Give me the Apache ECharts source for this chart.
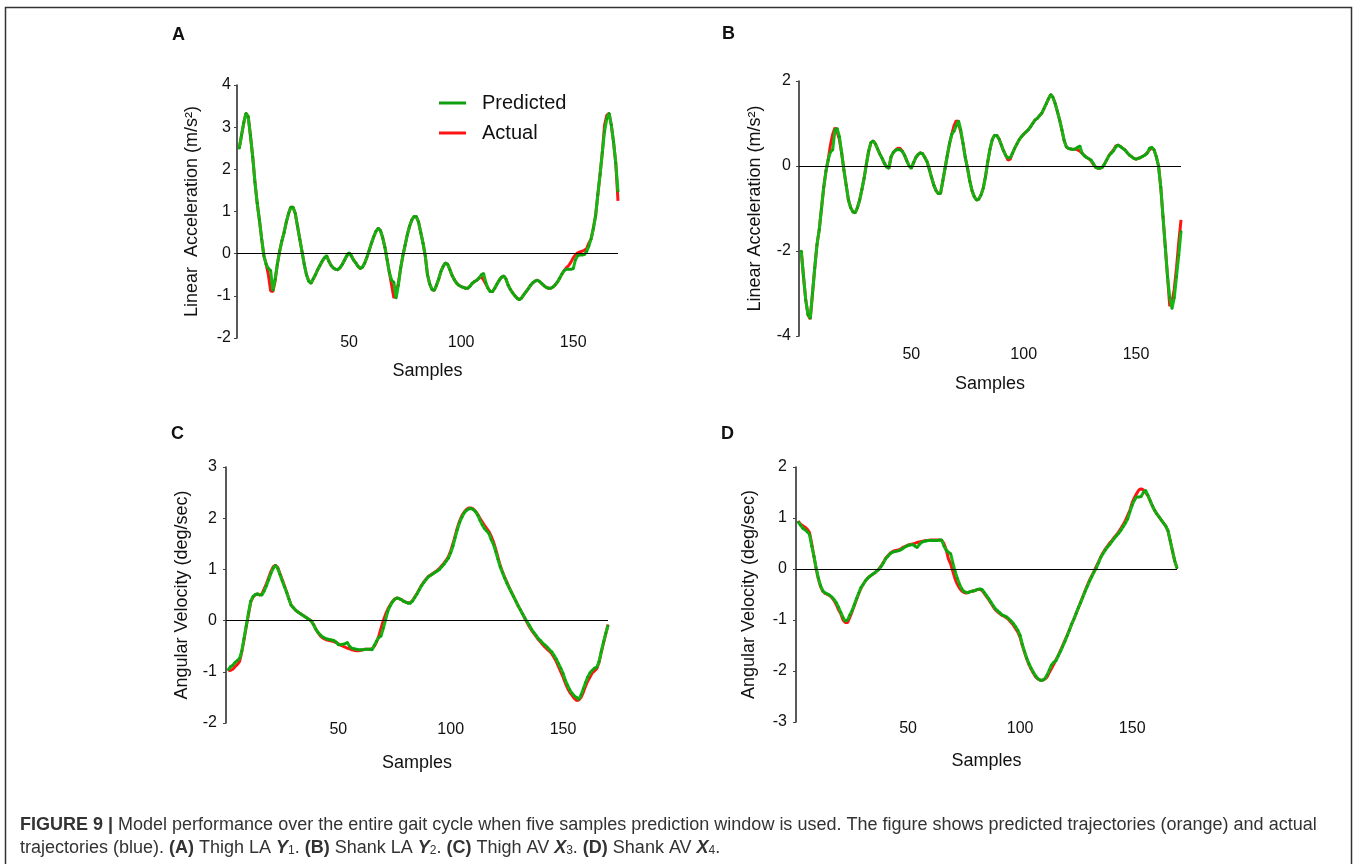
<!DOCTYPE html>
<html>
<head>
<meta charset="utf-8">
<script src="https://cdn.jsdelivr.net/npm/echarts@6/dist/echarts.min.js"></script>
<style>html,body{margin:0;padding:0;background:#fff}#c{width:1359px;height:864px}</style>
</head>
<body>
<div id="c"></div>
<script>
// ---- data (samples 1..170) ----
const predA=[2.5,2.8,3.1,3.33,3.25,2.8,2.3,1.7,1.2,0.8,
0.35,-0.05,-0.25,-0.35,-0.4,-0.87,-0.6,-0.25,0.05,0.3,
0.5,0.75,0.95,1.1,1.1,0.95,0.65,0.35,0.05,-0.25,
-0.5,-0.65,-0.7,-0.6,-0.5,-0.38,-0.28,-0.18,-0.1,-0.05,
-0.18,-0.28,-0.34,-0.37,-0.38,-0.33,-0.25,-0.15,-0.05,0.02,
-0.05,-0.15,-0.22,-0.3,-0.35,-0.32,-0.22,-0.08,0.08,0.25,
0.4,0.53,0.6,0.55,0.38,0.15,-0.15,-0.45,-0.63,-0.68,
-1.05,-0.75,-0.35,-0.05,0.2,0.45,0.65,0.8,0.88,0.88,
0.75,0.5,0.25,-0.05,-0.5,-0.72,-0.85,-0.87,-0.75,-0.6,
-0.42,-0.3,-0.22,-0.25,-0.38,-0.52,-0.62,-0.7,-0.75,-0.78,
-0.8,-0.82,-0.82,-0.77,-0.7,-0.66,-0.63,-0.58,-0.5,-0.47,
-0.68,-0.82,-0.9,-0.9,-0.82,-0.72,-0.63,-0.56,-0.53,-0.6,
-0.75,-0.85,-0.93,-1.0,-1.06,-1.09,-1.05,-0.97,-0.9,-0.83,
-0.75,-0.69,-0.65,-0.63,-0.66,-0.71,-0.76,-0.8,-0.82,-0.82,
-0.79,-0.74,-0.67,-0.58,-0.48,-0.4,-0.37,-0.37,-0.37,-0.36,
-0.15,-0.05,-0.03,-0.03,-0.02,0.05,0.18,0.35,0.6,0.9,
1.4,1.88,2.4,2.9,3.2,3.33,3.05,2.65,2.15,1.48];
const actA=[2.5,2.8,3.1,3.33,3.25,2.8,2.3,1.7,1.2,0.8,
0.35,-0.05,-0.25,-0.5,-0.88,-0.9,-0.65,-0.25,0.05,0.3,
0.5,0.75,0.95,1.1,1.1,0.95,0.65,0.35,0.05,-0.25,
-0.5,-0.65,-0.7,-0.6,-0.5,-0.38,-0.28,-0.18,-0.1,-0.05,
-0.18,-0.28,-0.34,-0.37,-0.38,-0.33,-0.25,-0.15,-0.05,0.02,
-0.05,-0.15,-0.22,-0.3,-0.35,-0.32,-0.22,-0.08,0.08,0.25,
0.4,0.53,0.6,0.55,0.38,0.15,-0.15,-0.45,-0.75,-1.05,
-0.95,-0.7,-0.35,-0.05,0.2,0.45,0.65,0.8,0.88,0.88,
0.75,0.5,0.25,-0.05,-0.5,-0.72,-0.85,-0.87,-0.75,-0.6,
-0.42,-0.3,-0.22,-0.25,-0.38,-0.52,-0.62,-0.7,-0.75,-0.78,
-0.8,-0.82,-0.82,-0.77,-0.7,-0.66,-0.63,-0.58,-0.55,-0.62,
-0.72,-0.82,-0.9,-0.9,-0.82,-0.72,-0.63,-0.56,-0.53,-0.6,
-0.75,-0.85,-0.93,-1.0,-1.06,-1.09,-1.05,-0.97,-0.9,-0.83,
-0.75,-0.69,-0.65,-0.63,-0.66,-0.71,-0.76,-0.8,-0.82,-0.82,
-0.79,-0.74,-0.67,-0.58,-0.48,-0.4,-0.33,-0.28,-0.2,-0.1,
-0.03,0.02,0.04,0.06,0.08,0.12,0.25,0.35,0.6,0.9,
1.4,1.88,2.4,3.05,3.28,3.33,3.05,2.65,2.15,1.25];

const predB=[-2.0,-2.6,-3.15,-3.5,-3.58,-3.0,-2.4,-1.85,-1.5,-1.0,
-0.5,-0.12,0.15,0.33,0.38,0.85,0.88,0.69,0.3,-0.1,
-0.45,-0.8,-0.98,-1.08,-1.1,-0.98,-0.8,-0.55,-0.28,0.05,
0.35,0.55,0.59,0.52,0.4,0.28,0.18,0.06,-0.02,-0.05,
0.22,0.32,0.37,0.39,0.38,0.34,0.25,0.12,0.0,-0.05,
0.08,0.2,0.27,0.31,0.29,0.2,0.1,-0.08,-0.27,-0.45,
-0.58,-0.65,-0.64,-0.35,-0.05,0.25,0.53,0.75,0.82,0.95,
1.06,0.85,0.53,0.2,-0.05,-0.35,-0.58,-0.72,-0.8,-0.78,
-0.68,-0.52,-0.25,0.1,0.4,0.62,0.72,0.72,0.64,0.5,
0.36,0.25,0.19,0.2,0.3,0.42,0.52,0.62,0.69,0.75,
0.8,0.85,0.92,1.0,1.08,1.12,1.18,1.24,1.35,1.46,
1.58,1.68,1.62,1.47,1.28,1.08,0.85,0.6,0.45,0.41,
0.4,0.39,0.4,0.44,0.47,0.3,0.24,0.2,0.17,0.14,
0.06,-0.03,-0.05,-0.05,-0.03,0.05,0.15,0.25,0.3,0.36,
0.45,0.49,0.46,0.42,0.38,0.32,0.26,0.22,0.18,0.16,
0.18,0.2,0.23,0.26,0.3,0.42,0.44,0.38,0.22,0.0,
-0.5,-1.2,-1.9,-2.6,-3.1,-3.35,-3.1,-2.6,-2.1,-1.54];
const actB=[-2.0,-2.6,-3.15,-3.5,-3.6,-3.0,-2.4,-1.85,-1.5,-1.0,
-0.5,-0.12,0.15,0.5,0.75,0.9,0.8,0.62,0.3,-0.1,
-0.45,-0.8,-0.98,-1.08,-1.1,-0.98,-0.8,-0.55,-0.28,0.05,
0.35,0.55,0.59,0.52,0.4,0.28,0.18,0.06,-0.02,-0.05,
0.22,0.32,0.38,0.42,0.41,0.35,0.25,0.12,0.0,-0.05,
0.08,0.2,0.27,0.31,0.29,0.2,0.1,-0.08,-0.27,-0.45,
-0.58,-0.65,-0.64,-0.35,-0.05,0.25,0.53,0.75,0.95,1.07,
1.0,0.8,0.53,0.2,-0.05,-0.35,-0.58,-0.72,-0.8,-0.78,
-0.68,-0.52,-0.25,0.1,0.4,0.62,0.72,0.72,0.64,0.5,
0.36,0.25,0.14,0.16,0.3,0.42,0.52,0.62,0.69,0.75,
0.8,0.85,0.92,1.0,1.08,1.12,1.18,1.24,1.35,1.46,
1.58,1.68,1.62,1.47,1.28,1.08,0.85,0.6,0.45,0.41,
0.4,0.39,0.4,0.38,0.35,0.3,0.24,0.2,0.17,0.12,
0.04,-0.03,-0.05,-0.05,-0.03,0.05,0.15,0.25,0.32,0.38,
0.47,0.49,0.46,0.42,0.38,0.32,0.26,0.22,0.18,0.16,
0.18,0.2,0.23,0.26,0.32,0.38,0.42,0.38,0.22,0.0,
-0.5,-1.2,-1.9,-2.6,-3.3,-3.2,-2.9,-2.4,-1.8,-1.27];

const predC=[-0.96,-0.9,-0.87,-0.82,-0.78,-0.74,-0.6,-0.35,-0.1,0.15,
0.38,0.47,0.51,0.52,0.5,0.5,0.58,0.68,0.8,0.92,
1.02,1.08,1.02,0.9,0.78,0.66,0.55,0.42,0.3,0.25,
0.2,0.17,0.14,0.11,0.08,0.05,0.02,-0.01,-0.08,-0.17,
-0.23,-0.28,-0.32,-0.34,-0.36,-0.37,-0.38,-0.39,-0.42,-0.47,
-0.47,-0.46,-0.45,-0.43,-0.5,-0.54,-0.55,-0.56,-0.57,-0.57,
-0.57,-0.56,-0.56,-0.56,-0.57,-0.48,-0.4,-0.33,-0.3,-0.15,
0.01,0.18,0.28,0.36,0.41,0.44,0.43,0.41,0.38,0.36,
0.34,0.34,0.38,0.45,0.52,0.6,0.68,0.74,0.8,0.85,
0.88,0.91,0.94,0.97,1.0,1.05,1.1,1.16,1.22,1.32,
1.45,1.62,1.78,1.92,2.02,2.1,2.15,2.18,2.19,2.17,
2.13,2.06,1.96,1.87,1.8,1.75,1.7,1.58,1.49,1.35,
1.2,1.05,0.94,0.83,0.73,0.64,0.55,0.47,0.38,0.29,
0.21,0.13,0.05,-0.02,-0.09,-0.17,-0.23,-0.29,-0.35,-0.39,
-0.44,-0.48,-0.52,-0.57,-0.61,-0.68,-0.75,-0.84,-0.93,-1.03,
-1.16,-1.26,-1.35,-1.42,-1.47,-1.5,-1.54,-1.45,-1.33,-1.21,
-1.1,-1.02,-0.97,-0.93,-0.91,-0.8,-0.6,-0.42,-0.25,-0.1];
const actC=[-0.98,-0.97,-0.95,-0.9,-0.86,-0.8,-0.62,-0.38,-0.12,0.12,
0.36,0.46,0.5,0.52,0.5,0.52,0.62,0.72,0.84,0.96,
1.05,1.08,1.04,0.92,0.8,0.68,0.56,0.42,0.3,0.25,
0.2,0.17,0.14,0.11,0.08,0.05,0.02,-0.01,-0.08,-0.17,
-0.24,-0.3,-0.34,-0.36,-0.38,-0.39,-0.4,-0.41,-0.43,-0.45,
-0.48,-0.5,-0.52,-0.54,-0.55,-0.57,-0.58,-0.59,-0.59,-0.58,
-0.57,-0.56,-0.56,-0.56,-0.55,-0.5,-0.42,-0.3,-0.15,0.0,
0.12,0.22,0.3,0.37,0.42,0.44,0.43,0.41,0.38,0.36,
0.35,0.35,0.39,0.46,0.53,0.61,0.69,0.75,0.81,0.86,
0.89,0.92,0.95,0.98,1.02,1.07,1.12,1.18,1.25,1.36,
1.5,1.66,1.82,1.95,2.05,2.12,2.17,2.2,2.2,2.18,
2.14,2.08,2.0,1.93,1.86,1.8,1.74,1.65,1.54,1.4,
1.24,1.08,0.96,0.85,0.75,0.65,0.56,0.47,0.38,0.29,
0.21,0.13,0.04,-0.04,-0.12,-0.19,-0.25,-0.31,-0.37,-0.42,
-0.47,-0.52,-0.56,-0.6,-0.65,-0.72,-0.8,-0.9,-1.0,-1.1,
-1.22,-1.32,-1.4,-1.46,-1.52,-1.56,-1.55,-1.5,-1.4,-1.28,
-1.18,-1.1,-1.02,-0.98,-0.94,-0.82,-0.62,-0.44,-0.26,-0.08];

const predD=[0.92,0.86,0.8,0.77,0.73,0.68,0.45,0.25,0.02,-0.18,
-0.33,-0.43,-0.47,-0.49,-0.51,-0.55,-0.6,-0.66,-0.75,-0.85,
-0.95,-1.02,-1.0,-0.9,-0.82,-0.7,-0.58,-0.47,-0.36,-0.3,
-0.23,-0.18,-0.14,-0.11,-0.08,-0.04,-0.01,0.05,0.12,0.2,
0.25,0.3,0.33,0.34,0.35,0.36,0.38,0.41,0.44,0.46,
0.47,0.48,0.45,0.42,0.48,0.52,0.54,0.55,0.56,0.56,
0.56,0.56,0.56,0.57,0.57,0.45,0.37,0.33,0.3,0.12,
-0.05,-0.18,-0.3,-0.39,-0.44,-0.46,-0.46,-0.44,-0.43,-0.42,
-0.4,-0.39,-0.4,-0.46,-0.52,-0.58,-0.65,-0.72,-0.78,-0.82,
-0.86,-0.9,-0.92,-0.94,-0.98,-1.02,-1.07,-1.13,-1.2,-1.3,
-1.48,-1.62,-1.75,-1.86,-1.95,-2.03,-2.1,-2.15,-2.18,-2.18,
-2.15,-2.08,-1.98,-1.88,-1.83,-1.8,-1.7,-1.62,-1.52,-1.42,
-1.31,-1.2,-1.08,-0.98,-0.87,-0.76,-0.66,-0.55,-0.44,-0.34,
-0.24,-0.15,-0.06,0.02,0.12,0.23,0.3,0.37,0.43,0.48,
0.54,0.6,0.65,0.7,0.76,0.83,0.9,0.98,1.12,1.25,
1.35,1.41,1.41,1.42,1.5,1.54,1.45,1.34,1.24,1.15,
1.08,1.02,0.96,0.9,0.84,0.75,0.55,0.35,0.16,0.02];
const actD=[0.94,0.88,0.85,0.82,0.78,0.72,0.5,0.25,0.0,-0.2,
-0.35,-0.44,-0.48,-0.5,-0.52,-0.56,-0.62,-0.7,-0.8,-0.88,
-1.0,-1.05,-1.05,-0.95,-0.84,-0.72,-0.6,-0.48,-0.38,-0.3,
-0.23,-0.18,-0.14,-0.11,-0.08,-0.04,0.0,0.06,0.13,0.21,
0.26,0.31,0.34,0.36,0.37,0.38,0.4,0.43,0.45,0.47,
0.48,0.49,0.5,0.52,0.53,0.54,0.55,0.56,0.56,0.57,
0.57,0.57,0.57,0.57,0.56,0.5,0.38,0.2,0.1,-0.05,
-0.2,-0.3,-0.38,-0.43,-0.46,-0.47,-0.46,-0.44,-0.43,-0.42,
-0.4,-0.4,-0.42,-0.48,-0.54,-0.6,-0.67,-0.74,-0.8,-0.84,
-0.88,-0.91,-0.93,-0.96,-1.0,-1.05,-1.1,-1.17,-1.24,-1.34,
-1.5,-1.64,-1.77,-1.88,-1.97,-2.05,-2.12,-2.16,-2.18,-2.18,
-2.16,-2.12,-2.03,-1.95,-1.87,-1.78,-1.7,-1.6,-1.5,-1.4,
-1.3,-1.19,-1.08,-0.98,-0.87,-0.76,-0.65,-0.54,-0.43,-0.32,
-0.22,-0.13,-0.04,0.05,0.14,0.24,0.32,0.39,0.45,0.51,
0.56,0.62,0.67,0.73,0.8,0.87,0.95,1.05,1.15,1.3,
1.4,1.48,1.55,1.57,1.55,1.5,1.44,1.34,1.24,1.15,
1.08,1.02,0.96,0.9,0.84,0.74,0.55,0.35,0.15,0.02];

const xTicks=[50,100,150];
const seriesNames=['Predicted','Actual'];
const panelLetters=['A','B','C','D'];
const yTitles=['Linear  Acceleration (m/s²)','Linear Acceleration (m/s²)','Angular Velocity (deg/sec)','Angular Velocity (deg/sec)'];
const yRanges=[[-2,4,1],[-4,2,2],[-2,3,1],[-3,2,1]];

// ---- layout ----
const F='"Liberation Sans", Arial, Helvetica, sans-serif';
const panels=[
 {pred:predA,act:actA,grid:{left:237,top:85,width:381,height:253},lbl:{left:172,top:26},xMargin:-3,xNameGap:24,yMargin:6,yNameGap:36},
 {pred:predB,act:actB,grid:{left:799,top:81,width:382,height:255},lbl:{left:722,top:25},xMargin:11,xNameGap:39,yMargin:8,yNameGap:35},
 {pred:predC,act:actC,grid:{left:226,top:467,width:382,height:256},lbl:{left:171,top:425},xMargin:-1,xNameGap:31,yMargin:9,yNameGap:35},
 {pred:predD,act:actD,grid:{left:796,top:467,width:381,height:255},lbl:{left:721,top:425},xMargin:-1,xNameGap:30,yMargin:9,yNameGap:38}
];
const GREEN='#14b814', RED='#ff1414';
const grids=[],xAxes=[],yAxes=[],series=[],titles=[];
panels.forEach((p,i)=>{
  grids.push(Object.assign({containLabel:false},p.grid));
  titles.push({text:panelLetters[i],left:p.lbl.left,top:p.lbl.top,padding:0,textStyle:{fontFamily:F,fontSize:18,fontWeight:'bold',color:'#111'}});
  xAxes.push({gridIndex:i,type:'value',min:0,max:170,interval:50,
    axisLine:{show:false},axisTick:{show:false},splitLine:{show:false},
    axisLabel:{customValues:xTicks,fontFamily:F,fontSize:16,color:'#111',margin:p.xMargin,
      formatter:v=>(xTicks.indexOf(v)>=0?String(v):'')},
    name:'Samples',nameLocation:'middle',nameGap:p.xNameGap,nameTextStyle:{fontFamily:F,fontSize:18,color:'#111'}});
  const r=yRanges[i];
  yAxes.push({gridIndex:i,type:'value',min:r[0],max:r[1],interval:r[2],
    axisLine:{show:true,lineStyle:{color:'#222',width:1.5}},
    axisTick:{show:true,length:3,lineStyle:{color:'#444'}},
    splitLine:{show:false},
    axisLabel:{fontFamily:F,fontSize:16,color:'#111',margin:p.yMargin},
    name:yTitles[i],nameLocation:'middle',nameGap:p.yNameGap,
    nameTextStyle:{fontFamily:F,fontSize:18,color:'#111'}});
  series.push({type:'line',name:seriesNames[1],xAxisIndex:i,yAxisIndex:i,
    data:p.act.map((v,k)=>[k+1,v]),showSymbol:false,z:2,
    lineStyle:{color:RED,width:3},itemStyle:{color:RED},
    markLine:{silent:true,symbol:'none',label:{show:false},animation:false,
      lineStyle:{color:'#000',width:1.2,type:'solid'},data:[{yAxis:0}]}});
  series.push({type:'line',name:seriesNames[0],xAxisIndex:i,yAxisIndex:i,
    data:p.pred.map((v,k)=>[k+1,v]),showSymbol:true,showAllSymbol:true,symbol:'circle',symbolSize:2.5,z:3,
    lineStyle:{color:GREEN,width:3},itemStyle:{color:'#0e9e0e'}});
});

const CF=18;
const captionRich={
  b:{fontFamily:F,fontSize:CF,fontWeight:'bold',fill:'#333'},
  bi:{fontFamily:F,fontSize:CF,fontWeight:'bold',fontStyle:'italic',fill:'#333'},
  s:{fontFamily:F,fontSize:12,fill:'#333',verticalAlign:'bottom',lineHeight:14}
};
const cap1='{b|FIGURE 9 |} Model performance over the entire gait cycle when five samples prediction window is used. The figure shows predicted trajectories (orange) and actual';
const cap2='trajectories (blue). {b|(A)} Thigh LA {bi|Y}{s|1}. {b|(B)} Shank LA {bi|Y}{s|2}. {b|(C)} Thigh AV {bi|X}{s|3}. {b|(D)} Shank AV {bi|X}{s|4}.';

const chart=echarts.init(document.getElementById('c'),null,{renderer:'canvas'});
chart.setOption({
  animation:false,
  backgroundColor:'#fff',
  title:titles,
  legend:{data:seriesNames,orient:'vertical',left:434,top:88,itemWidth:27,itemHeight:3,icon:'rect',itemGap:10,
    textStyle:{fontFamily:F,fontSize:20,color:'#111',padding:[0,0,0,11]}},
  grid:grids,xAxis:xAxes,yAxis:yAxes,series:series,
  graphic:[
    {type:'rect',silent:true,shape:{x:5.5,y:7.5,width:1346,height:900},style:{fill:'none',stroke:'#333',lineWidth:1.5}},
    {type:'text',silent:true,left:20,top:816,style:{text:cap1,rich:captionRich,fontFamily:F,fontSize:CF,fill:'#333'}},
    {type:'text',silent:true,left:20,top:839,style:{text:cap2,rich:captionRich,fontFamily:F,fontSize:CF,fill:'#333'}}
  ]
});
</script>
</body>
</html>
